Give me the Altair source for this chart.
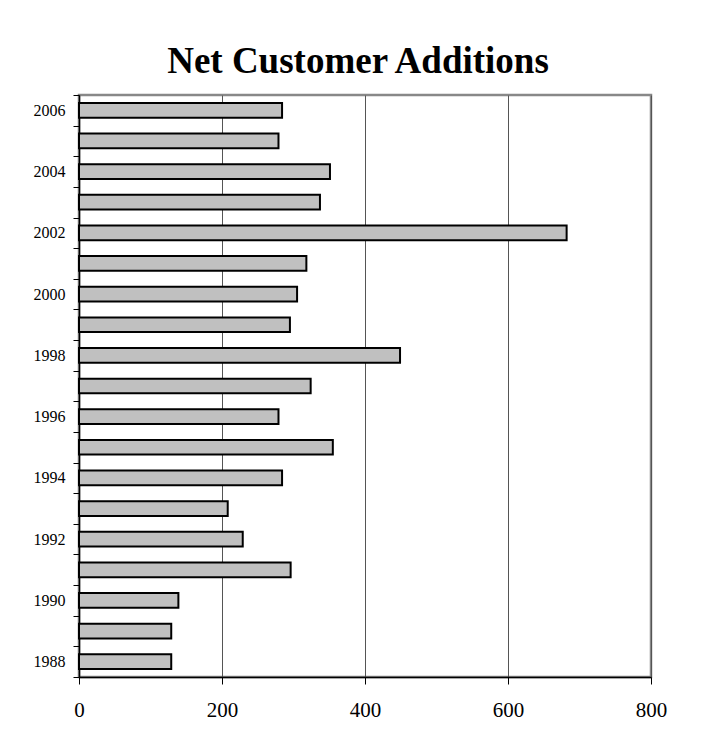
import altair as alt
import pandas as pd

years = [2006, 2005, 2004, 2003, 2002, 2001, 2000, 1999, 1998, 1997,
         1996, 1995, 1994, 1993, 1992, 1991, 1990, 1989, 1988]
additions = [284, 279, 351, 337, 682, 318, 305, 295, 449, 324,
             279, 355, 284, 208, 229, 296, 139, 129, 129]
x_ticks = [0, 200, 400, 600, 800]

df = pd.DataFrame({"year": [str(y) for y in years], "value": additions})

chart = alt.Chart(df).mark_bar(
    color="#C0C0C0", stroke="black", strokeWidth=2,
    height=alt.RelativeBandSize(0.48)
).encode(
    x=alt.X("value:Q",
            scale=alt.Scale(domain=[0, 800], nice=False),
            axis=alt.Axis(values=x_ticks, title=None, grid=True,
                          gridColor="#555555", gridWidth=1,
                          domainColor="black", domainWidth=1.5,
                          tickColor="black", tickSize=7, tickWidth=1,
                          labelFlush=False,
                          labelFont="Liberation Serif", labelFontSize=21,
                          labelColor="black", labelPadding=15)),
    y=alt.Y("year:O",
            sort=[str(y) for y in years],
            scale=alt.Scale(paddingInner=0, paddingOuter=0),
            axis=alt.Axis(title=None, tickBand="extent",
                          labelExpr="toNumber(datum.value) % 2 == 0 ? datum.label : ''",
                          domainColor="black", domainWidth=1.5,
                          tickColor="black", tickSize=6, tickWidth=1,
                          labelFont="Liberation Serif", labelFontSize=16,
                          labelColor="black", labelPadding=8)),
).properties(
    width=572,
    height=582,
    title=alt.TitleParams("Net Customer Additions", font="Liberation Serif",
                          fontSize=37, fontWeight="bold", color="black",
                          anchor="middle", frame="group", dx=-7, offset=6),
    autosize=alt.AutoSizeParams(type="none"),
    padding={"left": 71, "top": 87, "right": 45, "bottom": 60},
).configure_view(
    stroke="#888888", strokeWidth=2.5
)

chart.save("out.html", embed_options={"renderer": "svg", "actions": False})
